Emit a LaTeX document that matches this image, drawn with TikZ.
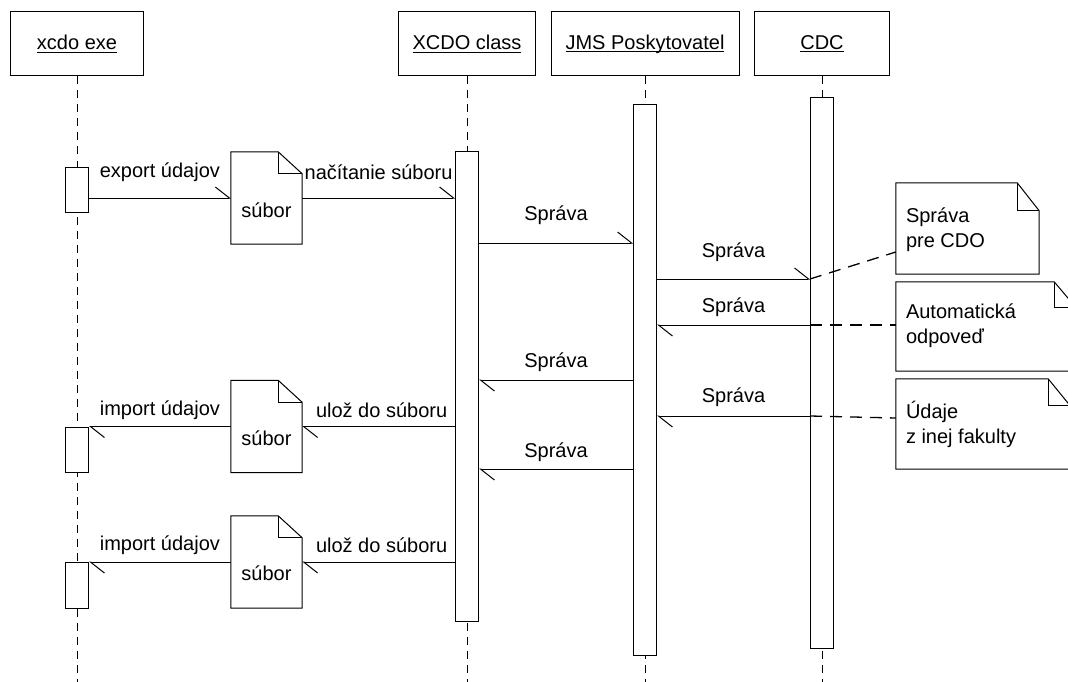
\documentclass[tikz,border=0pt]{standalone}
\usepackage{fontspec}
\setmainfont{Liberation Sans}
\usetikzlibrary{arrows.meta}
\newcommand\ulx[1]{\setbox0\hbox{#1}\rlap{\rule[-2.5pt]{\wd0}{0.9pt}}\box0}
\newcommand\foldshape[3]{%
  \draw[line width=1pt, fill=white] (#1.south west) -- (#1.north west) -- ([xshift=-#2pt]#1.north east) -- ([yshift=-#3pt]#1.north east) -- (#1.south east) -- cycle;
  \draw[line width=1pt] ([xshift=-#2pt]#1.north east) |- ([yshift=-#3pt]#1.north east);}
\begin{document}
\begin{tikzpicture}[x=1pt,y=-1pt,
  every node/.style={font=\fontsize{20}{25}\selectfont, inner sep=0pt},
  head/.style={draw, line width=1pt, minimum height=64pt},
  actbox/.style={draw, fill=white, line width=1pt, minimum width=23pt},
  filebox/.style={minimum width=71pt, minimum height=92pt},
  lifeline/.style={line width=1pt, dash pattern=on 8pt off 6pt},
  msg/.style={line width=1pt, -{Straight Barb[harpoon, length=14pt, width=22pt, line width=1pt]}},
  notelink/.style={line width=1.3pt, dash pattern=on 12pt off 8pt},
  notetext/.style={align=left, anchor=west}
]
\useasboundingbox (0,0) rectangle (1068,682);
\clip (0,0) rectangle (1068,682);
\coordinate (bot) at (0,682);
% headers
\node[head, minimum width=133pt] (hx) at (77,44) {\ulx{xcdo exe}};
\node[head, minimum width=137pt] (hc) at (467,44) {\ulx{XCDO class}};
\node[head, minimum width=188pt] (hj) at (645,44) {\ulx{JMS Poskytovatel}};
\node[head, minimum width=135pt] (hd) at (822,44) {\ulx{CDC}};
% lifelines
\foreach \n in {hx,hc,hj,hd} \draw[lifeline] (\n.south) -- (\n.south |- bot);
% activation boxes
\node[actbox, minimum height=45pt] (ax1) at (77,189.5) {};
\node[actbox, minimum height=45pt] (ax2) at (77,449.5) {};
\node[actbox, minimum height=46pt] (ax3) at (77,585) {};
\node[actbox, minimum height=469pt] (ac) at (467,386.5) {};
\node[actbox, minimum height=550pt] (aj) at (645,380) {};
\node[actbox, minimum height=550pt] (ad) at (822,373) {};
% files
\node[filebox] (f1) at (266.5,198) {};
\foldshape{f1}{24}{22}
\node (f1t) at ([yshift=-12pt]f1.center) {súbor};
\node[filebox] (f2) at (266.5,426.5) {};
\foldshape{f2}{24}{22}
\node (f2t) at ([yshift=-12pt]f2.center) {súbor};
\node[filebox] (f3) at (266.5,562) {};
\foldshape{f3}{24}{22}
\node (f3t) at ([yshift=-11pt]f3.center) {súbor};
% message levels
\coordinate (m3) at (0,243);
\coordinate (m4) at (0,279);
\coordinate (m5) at (0,325);
\coordinate (m6) at (0,380);
\coordinate (m7) at (0,416);
\coordinate (m8) at (0,469);
% messages
\draw[msg] (ax1.east |- f1.west) -- (f1.west) node[midway, yshift=26pt] {export údajov};
\draw[msg] (f1.east) -- (ac.west |- f1.east) node[midway, yshift=26pt] {načítanie súboru};
\draw[msg] (ac.east |- m3) -- (aj.west |- m3) node[midway, yshift=28pt] {Správa};
\draw[msg] (aj.east |- m4) -- (ad.west |- m4) node[midway, yshift=27pt] {Správa};
\draw[msg] (ad.west |- m5) -- (aj.east |- m5) node[midway, yshift=18pt] {Správa};
\draw[msg] (aj.west |- m6) -- (ac.east |- m6) node[midway, yshift=18pt] {Správa};
\draw[msg] (ad.west |- m7) -- (aj.east |- m7) node[midway, yshift=19pt] {Správa};
\draw[msg] (aj.west |- m8) -- (ac.east |- m8) node[midway, yshift=17pt] {Správa};
\draw[msg] (ac.west |- f2.east) -- (f2.east) node[midway, yshift=16pt, xshift=3pt] {ulož do súboru};
\draw[msg] (f2.west) -- (ax2.east |- f2.west) node[midway, yshift=16pt] {import údajov};
\draw[msg] (ac.west |- f3.east) -- (f3.east) node[midway, yshift=17pt, xshift=3pt] {ulož do súboru};
\draw[msg] (f3.west) -- (ax3.east |- f3.west) node[midway, yshift=17pt] {import údajov};
% notes
\node[minimum width=143pt, minimum height=91pt] (n1) at (967.5,228.5) {};
\foldshape{n1}{22}{28}
\node[notetext] (n1t) at ([xshift=10pt, yshift=-1pt]n1.west) {Správa\\pre CDO};
\node[minimum width=180pt, minimum height=89pt] (n2) at (986,326.5) {};
\foldshape{n2}{22}{26}
\node[notetext] (n2t) at ([xshift=10pt, yshift=1pt]n2.west) {Automatická\\odpoveď};
\node[minimum width=174pt, minimum height=90pt] (n3) at (983,424) {};
\foldshape{n3}{22}{27}
\node[notetext] (n3t) at ([xshift=10pt, yshift=-0.5pt]n3.west) {Údaje\\z inej fakulty};
% note links
\draw[notelink] (ad.west |- m4) -- ([yshift=-23.5pt]n1.west);
\draw[notelink] (ad.west |- m5) -- (n2.west |- m5);
\draw[notelink] (ad.west |- m7) -- ([yshift=6pt]n3.west);
\end{tikzpicture}
\end{document}
